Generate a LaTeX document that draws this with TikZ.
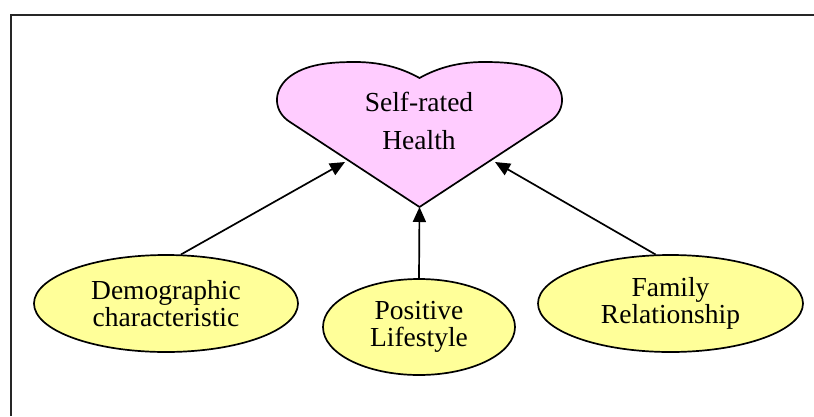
\documentclass[tikz,border=0pt]{standalone}
\usepackage{fontspec}
\setmainfont{Liberation Serif}
\usetikzlibrary{shapes.geometric,arrows.meta}
\definecolor{heartpink}{RGB}{255,204,255}
\definecolor{ellyellow}{RGB}{255,255,153}
\tikzset{
  factor/.style={ellipse, draw=black, line width=1.7pt, fill=ellyellow, inner sep=0pt,
    align=center, font=\fontsize{27.5}{27}\selectfont},
  link/.style={line width=1.7pt, -{Triangle[length=15pt,width=13pt]}},
  frame/.style={line width=2pt, draw=black!85}
}
\begin{document}
\begin{tikzpicture}[x=1pt,y=-1pt]
\useasboundingbox (0,0) rectangle (814,416);
% frame
\coordinate (fb) at (10.5,416);
\coordinate (fc) at (10.5,15);
\coordinate (fr) at (816,15);
\draw[frame] (fb) -- (fc) -- (fr);
% heart
\draw[line width=1.7pt, fill=heartpink, line join=round]
  (419.5,207) -- (290,122)
  .. controls (274,112) and (272,92) .. (288,78)
  .. controls (305,64) and (330,62) .. (355,62)
  .. controls (385,62) and (405,70) .. (419.5,78)
  .. controls (434,70) and (454,62) .. (484,62)
  .. controls (509,62) and (534,64) .. (551,78)
  .. controls (567,92) and (565,112) .. (549,122)
  -- cycle;
\node[align=center, font=\fontsize{27.5}{38}\selectfont] (health) at (419,121) {Self-rated\\Health};
\coordinate (hL) at (345,162);
\coordinate (hB) at (419.5,207);
\coordinate (hR) at (495,162);
% factors
\node[factor, minimum width=264pt, minimum height=97pt] (demo) at (166,303.5) {Demographic\\characteristic};
\node[factor, minimum width=192pt, minimum height=96pt] (pos) at (419,327) {Positive\\Lifestyle};
\node[factor, minimum width=265pt, minimum height=97pt] (fam) at (670.5,303.5) {Family\\Relationship};
% links
\draw[link] (demo.73) -- (hL);
\draw[link] (pos.north) -- (hB);
\draw[link] (fam.107) -- (hR);
\end{tikzpicture}
\end{document}
